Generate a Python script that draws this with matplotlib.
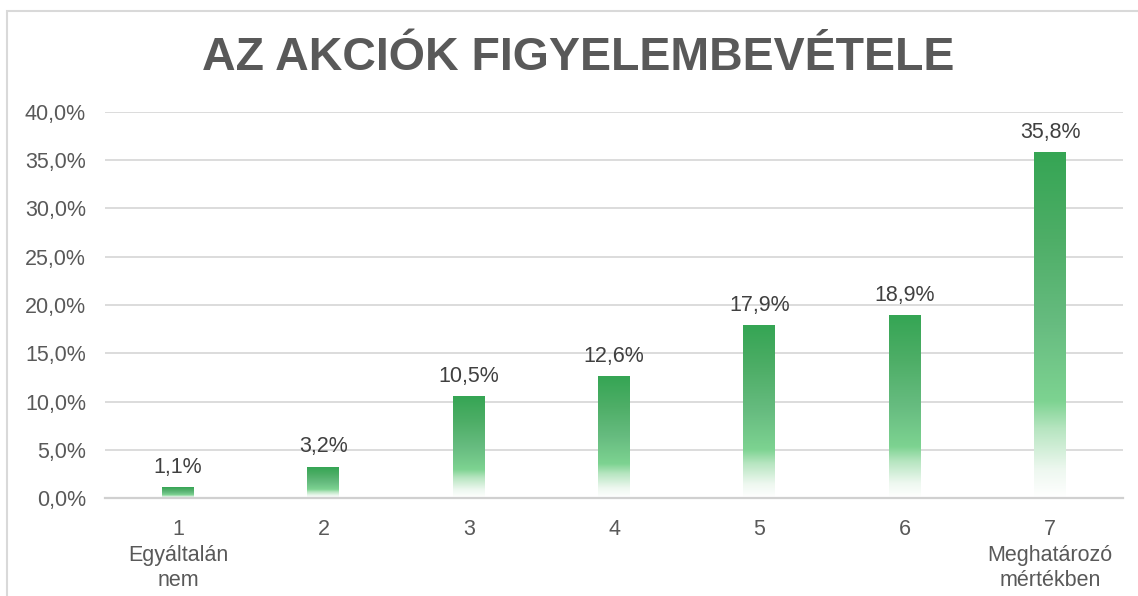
import numpy as np
import matplotlib.pyplot as plt
from matplotlib.colors import LinearSegmentedColormap
from matplotlib.patches import Rectangle

plt.rcParams['font.family'] = ['Liberation Sans', 'DejaVu Sans']

# Adatok
categories = ["1\nEgyáltalán\nnem", "2", "3", "4", "5", "6", "7\nMeghatározó\nmértékben"]
values = [1.1, 3.2, 10.5, 12.6, 17.9, 18.9, 35.8]
value_labels = ["1,1%", "3,2%", "10,5%", "12,6%", "17,9%", "18,9%", "35,8%"]
yticks = [0, 5, 10, 15, 20, 25, 30, 35, 40]
ytick_labels = ["0,0%", "5,0%", "10,0%", "15,0%", "20,0%", "25,0%", "30,0%", "35,0%", "40,0%"]
title = "AZ AKCIÓK FIGYELEMBEVÉTELE"

# Színátmenet alulról (fehér) felfelé (sötétzöld)
grad_cmap = LinearSegmentedColormap.from_list("zold", [
    (0.00, "#FFFFFF"),
    (0.08, "#EEF8F0"),
    (0.20, "#B6E5C0"),
    (0.28, "#7DD391"),
    (0.50, "#67BC80"),
    (0.75, "#4EAE67"),
    (1.00, "#35A554"),
])

fig = plt.figure(figsize=(11.38, 5.96), dpi=100)
ax = fig.add_axes([0.0926, 0.1644, 0.894, 0.6477])

x = np.arange(len(values))
bars = ax.bar(x, values, width=0.22, color="none", edgecolor="none", zorder=2)

gradient = np.linspace(0, 1, 256).reshape(-1, 1)
for b in bars:
    x0, w, h = b.get_x(), b.get_width(), b.get_height()
    ax.imshow(gradient, cmap=grad_cmap, origin="lower", aspect="auto",
              extent=[x0, x0 + w, 0, h], zorder=2, interpolation="bilinear")

for xi, v, lab in zip(x, values, value_labels):
    ax.annotate(lab, (xi, v), xytext=(0, 7), textcoords="offset points",
                ha="center", va="bottom", fontsize=15.5, color="#404040")

ax.set_xlim(-0.5, len(values) - 0.5)
ax.set_ylim(0, 40)
ax.set_yticks(yticks)
ax.set_yticklabels(ytick_labels)
ax.set_xticks(x)
ax.set_xticklabels(categories, linespacing=1.3)
ax.tick_params(axis="both", length=0, labelsize=15.5, labelcolor="#595959")
ax.tick_params(axis="y", pad=14)
ax.tick_params(axis="x", pad=15)

ax.grid(axis="y", color="#D9D9D9", linewidth=1.3, zorder=0)
ax.set_axisbelow(True)
for s in ["top", "right", "left"]:
    ax.spines[s].set_visible(False)
ax.spines["bottom"].set_color("#D0D0D0")
ax.spines["bottom"].set_linewidth(1.6)

fig.text(0.508, 0.903, title, ha="center", va="center", fontsize=33.5,
         fontweight="bold", color="#595959")

# Diagram kerete (a kép jobb és alsó szélén túl)
frame = Rectangle((7 / 1138, -0.1), 1.2, (596 - 11) / 596 + 0.1,
                  transform=fig.transFigure, fill=False,
                  edgecolor="#D9D9D9", linewidth=1.5)
fig.patches.append(frame)

fig.savefig("out.png", dpi=100)
